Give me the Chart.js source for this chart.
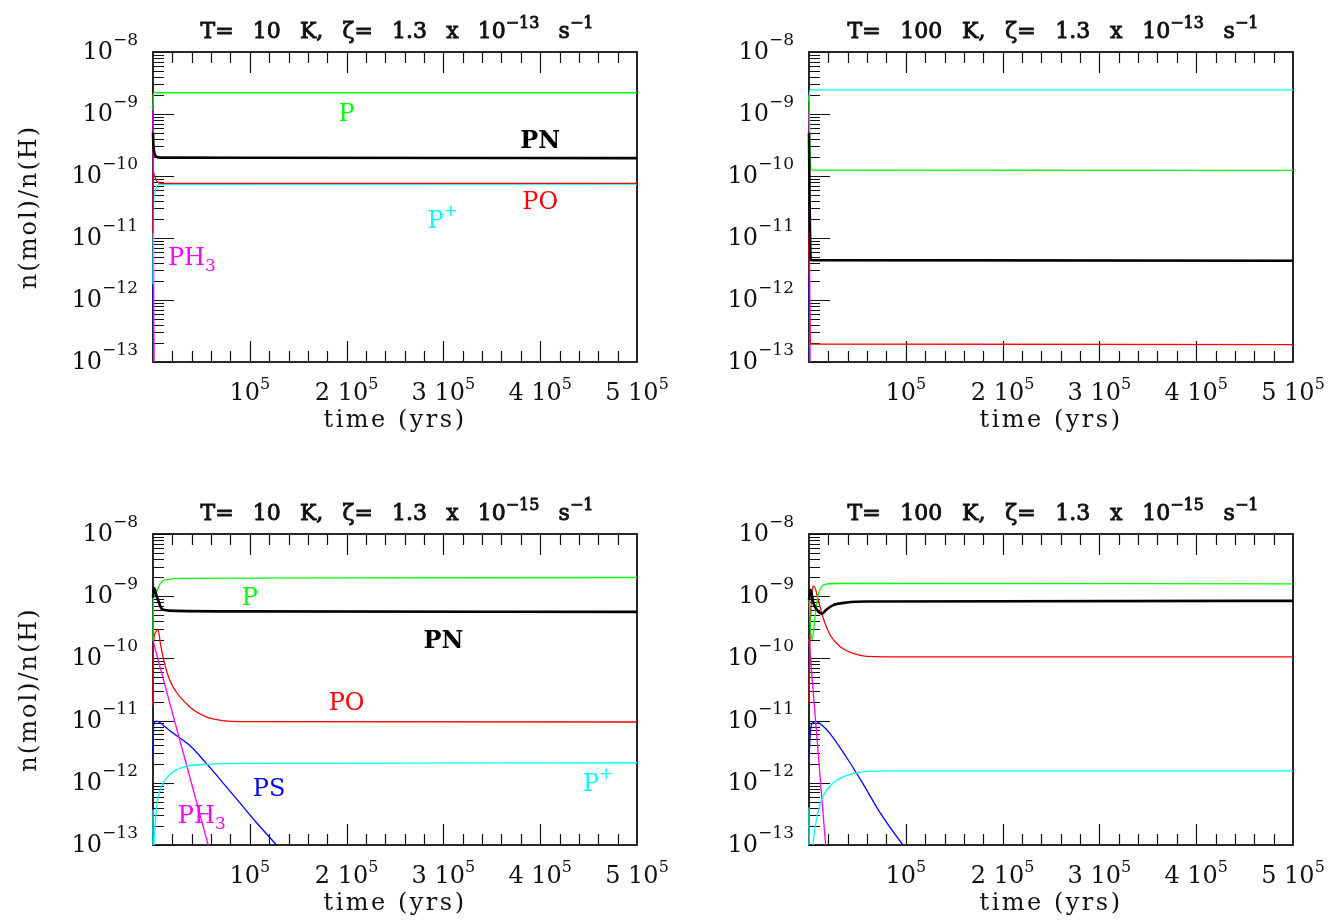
<!DOCTYPE html>
<html>
<head>
<meta charset="utf-8">
<script src="https://cdn.jsdelivr.net/npm/chart.js@4.4.1/dist/chart.umd.min.js"></script>
<style>
  html, body { margin: 0; padding: 0; background: #fff; }
  #wrap { position: relative; width: 1341px; height: 921px; overflow: hidden; }
  canvas { position: absolute; }
</style>
</head>
<body>
<div id="wrap">
  <canvas id="c1" width="680" height="460" style="left:0;top:0"></canvas>
  <canvas id="c2" width="670" height="460" style="left:671px;top:0"></canvas>
  <canvas id="c3" width="680" height="460" style="left:0;top:461px"></canvas>
  <canvas id="c4" width="670" height="460" style="left:671px;top:461px"></canvas>
</div>
<script>
// axis ranges and ticks
const X_MAX = 5e5;
const Y_MIN = 1e-13, Y_MAX = 1e-8;
const xMajorTicks = [1e5, 2e5, 3e5, 4e5, 5e5];
const xMinorStep = 2e4;
const yDecades = [-13, -12, -11, -10, -9, -8];

// panel parameters: temperature (K) and exponent of zeta
const panelTemps = [10, 100, 10, 100];
const panelZetaExp = [-13, -13, -15, -15];

// --- T = 10 K, zeta = 1.3e-13
const A_PN_t = [0, 300, 700, 1500, 2750, 6900, 100000, 500000];
const A_PN   = [5.0e-10, 3.4e-10, 2.8e-10, 2.3e-10, 2.1e-10, 1.98e-10, 1.97e-10, 1.94e-10];
const A_P_t  = [0, 400, 900, 500000];
const A_P    = [1.15e-9, 2.0e-9, 2.2e-9, 2.2e-9];
const A_PO_t = [0, 500, 1700, 4100, 8000, 500000];
const A_PO   = [1.2e-11, 1.15e-10, 1.0e-10, 8.2e-11, 7.6e-11, 7.6e-11];
const A_Pp_t = [0, 300, 700, 1700, 3400, 6900, 500000];
const A_Pp   = [1.8e-12, 1.0e-11, 4.0e-11, 5.3e-11, 6.7e-11, 7.3e-11, 7.4e-11];
const A_PH3_t = [0, 1200];
const A_PH3   = [1.15e-9, 1.0e-14];
const A_PS_t = [0, 1200];
const A_PS   = [2.7e-12, 1.0e-14];

// --- T = 100 K, zeta = 1.3e-13
const B_PN_t = [0, 600, 1200, 2000, 500000];
const B_PN   = [5.0e-10, 4.0e-11, 8.0e-12, 4.4e-12, 4.3e-12];
const B_P_t  = [0, 600, 1200, 2200, 500000];
const B_P    = [2.0e-9, 6.0e-10, 2.2e-10, 1.25e-10, 1.23e-10];
const B_PO_t = [0, 700, 1500, 500000];
const B_PO   = [1.2e-11, 8.0e-13, 1.95e-13, 1.9e-13];
const B_Pp_t = [0, 700, 1800, 500000];
const B_Pp   = [1.6e-9, 2.3e-9, 2.45e-9, 2.45e-9];
const B_PH3_t = [0, 1200];
const B_PH3   = [1.1e-9, 1.0e-14];
const B_PS_t = [0, 1200];
const B_PS   = [2.6e-12, 1.0e-14];

// --- T = 10 K, zeta = 1.3e-15
const C_PN_t = [0, 800, 1700, 3400, 5200, 8600, 12000, 24000, 100000, 500000];
const C_PN   = [9.5e-10, 1.35e-9, 1.3e-9, 1.05e-9, 8.7e-10, 6.4e-10, 6.0e-10, 5.8e-10, 5.7e-10, 5.6e-10];
const C_P_t  = [0, 400, 1700, 3440, 6880, 10300, 17200, 31000, 100000, 300000, 500000];
const C_P    = [1.9e-10, 9.3e-10, 1.0e-9, 1.13e-9, 1.53e-9, 1.77e-9, 1.88e-9, 1.93e-9, 1.95e-9, 1.98e-9, 2.0e-9];
const C_PO_t = [0, 300, 2500, 5200, 7600, 10300, 15500, 20600, 37800, 55000, 72000, 89000, 500000];
const C_PO   = [1.7e-11, 1.5e-10, 2.6e-10, 2.9e-10, 1.75e-10, 1.07e-10, 5.3e-11, 3.5e-11, 1.67e-11, 1.15e-11, 1.0e-11, 9.6e-12, 9.5e-12];
const C_Pp_t = [0, 150, 800, 1700, 3440, 5200, 8600, 13800, 20600, 37800, 55000, 100000, 500000];
const C_Pp   = [3.7e-13, 4.0e-14, 8.0e-14, 1.5e-13, 3.6e-13, 5.7e-13, 8.7e-13, 1.18e-12, 1.5e-12, 1.88e-12, 1.98e-12, 2.05e-12, 2.1e-12];
const C_PH3_t = [0, 57000];
const C_PH3   = [1.9e-10, 1.0e-13];
const C_PS_t = [0, 700, 3500, 7000, 12000, 20600, 37800, 55100, 72300, 89600, 106800, 127500, 140000];
const C_PS   = [2.6e-12, 8.5e-12, 9.8e-12, 9.3e-12, 8.1e-12, 6.3e-12, 4.0e-12, 2.05e-12, 1.0e-12, 4.8e-13, 2.3e-13, 1.0e-13, 5.8e-14];

// --- T = 100 K, zeta = 1.3e-15
const D_PN_t = [0, 1700, 4500, 9600, 13100, 18200, 25100, 38900, 59500, 500000];
const D_PN   = [8.7e-10, 1.27e-9, 7.8e-10, 5.7e-10, 5.2e-10, 6.1e-10, 7.2e-10, 7.9e-10, 8.2e-10, 8.4e-10];
const D_P_t  = [0, 1000, 2750, 4500, 6200, 9600, 13100, 18200, 30000, 500000];
const D_P    = [1.0e-9, 4.5e-10, 2.0e-10, 2.6e-10, 4.7e-10, 1.05e-9, 1.43e-9, 1.57e-9, 1.6e-9, 1.58e-9];
const D_PO_t = [0, 1000, 2750, 5200, 9600, 14800, 21700, 32000, 45700, 59500, 107000, 500000];
const D_PO   = [1.9e-11, 2.0e-10, 1.0e-9, 1.45e-9, 8.7e-10, 4.4e-10, 2.4e-10, 1.55e-10, 1.2e-10, 1.08e-10, 1.06e-10, 1.06e-10];
const D_Pp_t = [0, 200, 4100, 7600, 14400, 24800, 38500, 55700, 90000, 500000];
const D_Pp   = [4.0e-13, 1.0e-14, 1.0e-13, 2.5e-13, 6.0e-13, 9.8e-13, 1.3e-12, 1.5e-12, 1.56e-12, 1.56e-12];
const D_PH3_t = [0, 17200];
const D_PH3   = [2.0e-10, 1.0e-13];
const D_PS_t = [0, 2000, 5000, 7600, 12000, 21300, 38500, 55700, 72900, 97000, 105000];
const D_PS   = [2.6e-12, 8.0e-12, 9.5e-12, 9.6e-12, 8.8e-12, 6.3e-12, 2.6e-12, 9.7e-13, 3.4e-13, 1.0e-13, 7.0e-14];

// species labels (text, anchored in data units)
const A_labelText = ['P', 'PN', 'PO', 'P', 'PH'];
const A_labelSup  = ['', '', '', '+', ''];
const A_labelSub  = ['', '', '', '', '3'];
const A_labelTime = [2.0e5, 4.0e5, 4.0e5, 2.92e5, 3.46e4];
const A_labelVal  = [1.04e-9, 3.95e-10, 4.1e-11, 2.0e-11, 5.0e-12];
const C_labelText = ['P', 'PN', 'PO', 'PS', 'P', 'PH'];
const C_labelSup  = ['', '', '', '', '+', ''];
const C_labelSub  = ['', '', '', '', '', '3'];
const C_labelTime = [1.0e5, 3.0e5, 2.0e5, 1.2e5, 4.525e5, 4.48e4];
const C_labelVal  = [9.9e-10, 2.0e-10, 2.0e-11, 8.3e-13, 1.02e-12, 3.1e-13];

const GREEN = '#00ff00', RED = '#ff0000', CYAN = '#00ffff', MAGENTA = '#ff00ff', BLUE = '#0000ff', BLACK = '#000000';
const labelColor = { 'P': GREEN, 'PN': BLACK, 'PO': RED, 'PS': BLUE, 'PH': MAGENTA };
const FONT = '"DejaVu Serif", serif';
const F = (s, b) => (b ? 'bold ' : '') + s + 'px ' + FONT;

function series(t, v, color, w) {
    return {
        data: t.map((x, i) => ({ x: x, y: v[i] })),
        borderColor: color,
        borderWidth: w,
        pointRadius: 0,
        fill: false,
        clip: { left: 2, top: 0, right: 0, bottom: 0 },
        cubicInterpolationMode: 'monotone'
    };
}

function partsWidth(ctx, parts) {
    let w = 0;
    parts.forEach(p => { ctx.font = p.font; w += ctx.measureText(p.t).width + (p.gap || 0); });
    return w;
}

function drawParts(ctx, parts, x, y, stroke) {
    parts.forEach(p => {
        x += p.gap || 0;
        ctx.font = p.font;
        ctx.fillText(p.t, x, y + (p.dy || 0));
        if (stroke) ctx.strokeText(p.t, x, y + (p.dy || 0));
        x += ctx.measureText(p.t).width;
    });
}

const decor = {
    id: 'decor',
    beforeDatasetsDraw(chart) {
        const ctx = chart.ctx;
        const a = chart.chartArea;
        const xs = chart.scales.x, ys = chart.scales.y;
        ctx.save();
        // frame
        ctx.strokeStyle = '#111';
        ctx.lineWidth = 1.8;
        ctx.strokeRect(a.left, a.top, a.right - a.left, a.bottom - a.top);
        // ticks
        ctx.lineWidth = 1.2;
        ctx.beginPath();
        for (let i = 1; i * xMinorStep < X_MAX; i++) {
            const px = Math.round(xs.getPixelForValue(i * xMinorStep)) + 0.5;
            const len = (i % 5 === 0) ? 21 : 11;
            ctx.moveTo(px, a.bottom); ctx.lineTo(px, a.bottom - len);
            ctx.moveTo(px, a.top); ctx.lineTo(px, a.top + len);
        }
        yDecades.forEach(d => {
            for (let k = 1; k <= 9; k++) {
                const v = k * Math.pow(10, d);
                if (v > Y_MAX * 1.0001) break;
                const py = Math.round(ys.getPixelForValue(v)) + 0.5;
                const len = (k === 1) ? 21 : 11;
                ctx.moveTo(a.left, py); ctx.lineTo(a.left + len, py);
            }
        });
        ctx.stroke();
        ctx.restore();
    },
    afterDatasetsDraw(chart, args, opts) {
        const ctx = chart.ctx;
        const a = chart.chartArea;
        const xs = chart.scales.x, ys = chart.scales.y;
        ctx.save();
        ctx.textAlign = 'left';
        ctx.textBaseline = 'alphabetic';
        ctx.fillStyle = '#111';

        // y tick labels
        yDecades.forEach(d => {
            const py = ys.getPixelForValue(Math.pow(10, d));
            const parts = [{ t: '10', font: F(24) }, { t: '\u2212' + Math.abs(d), font: F(17), dy: -14 }];
            const w = partsWidth(ctx, parts);
            drawParts(ctx, parts, a.left - 15 - w, py + 7);
        });
        // x tick labels
        xMajorTicks.forEach(v => {
            const m = Math.round(v / 1e5);
            const parts = [{ t: (m === 1 ? '' : m + ' ') + '10', font: F(24) }, { t: '5', font: F(16), dy: -11 }];
            const w = partsWidth(ctx, parts);
            drawParts(ctx, parts, xs.getPixelForValue(v) - w / 2, a.bottom + 38);
        });

        // axis titles
        const cx = (a.left + a.right) / 2;
        ctx.font = F(24);
        ctx.letterSpacing = '2.5px';
        ctx.textAlign = 'center';
        ctx.fillText('time (yrs)', cx, a.bottom + 65);
        if (opts.yTitle) {
            ctx.save();
            ctx.letterSpacing = '2px';
            ctx.translate(a.left - 117, (a.top + a.bottom) / 2);
            ctx.rotate(-Math.PI / 2);
            ctx.fillText('n(mol)/n(H)', 0, 0);
            ctx.restore();
        }
        ctx.letterSpacing = '0px';
        ctx.textAlign = 'left';

        // panel title
        const tb = F(22), ts = F(16);
        const items = [
            { t: 'T=', font: tb }, { t: String(opts.temp), font: tb }, { t: 'K,', font: tb },
            { t: '\u03b6=', font: tb }, { t: '1.3', font: tb }, { t: 'x', font: tb }, { t: '10', font: tb },
            { t: '\u2212' + Math.abs(opts.zexp), font: ts, dy: -10, sup: true },
            { t: 's', font: tb }, { t: '\u22121', font: ts, dy: -10, sup: true }
        ];
        const target = opts.temp >= 100 ? 411 : 393;
        const natural = partsWidth(ctx, items);
        const nGaps = items.filter(p => !p.sup).length - 1;
        const gap = (target - natural) / nGaps;
        items.forEach((p, i) => { if (i > 0 && !p.sup) p.gap = gap; });
        ctx.strokeStyle = '#111';
        ctx.lineWidth = 0.9;
        drawParts(ctx, items, cx - target / 2 + 2, a.top - 14, true);

        // species labels
        const L = opts.labels;
        if (L) {
            L.text.forEach((txt, i) => {
                const px = xs.getPixelForValue(L.time[i]);
                const py = ys.getPixelForValue(L.val[i]);
                const main = { t: txt, font: F(24, txt === 'PN') };
                const parts = [main];
                if (L.sup[i]) parts.push({ t: L.sup[i], font: F(17), dy: -12 });
                if (L.sub[i]) parts.push({ t: L.sub[i], font: F(17), dy: 6 });
                ctx.font = main.font;
                const mw = ctx.measureText(txt).width;
                ctx.fillStyle = (txt === 'P' && L.sup[i]) ? CYAN : labelColor[txt];
                drawParts(ctx, parts, px - mw / 2, py + 8.5);
            });
        }
        ctx.restore();
    }
};

function makePanel(id, idx, pad, sets, labels, yTitle) {
    new Chart(document.getElementById(id), {
        type: 'line',
        data: { datasets: sets },
        options: {
            responsive: false,
            animation: false,
            events: [],
            layout: { padding: pad },
            plugins: {
                legend: { display: false },
                tooltip: { enabled: false },
                decor: { temp: panelTemps[idx], zexp: panelZetaExp[idx], labels: labels, yTitle: yTitle }
            },
            scales: {
                x: { type: 'linear', min: 0, max: X_MAX, display: false },
                y: { type: 'logarithmic', min: Y_MIN, max: Y_MAX, display: false }
            }
        },
        plugins: [decor]
    });
}

makePanel('c1', 0, { left: 153, top: 52, right: 43, bottom: 98 }, [
    series(A_PN_t, A_PN, BLACK, 2.6),
    series(A_P_t, A_P, GREEN, 1.3),
    series(A_PO_t, A_PO, RED, 1.3),
    series(A_Pp_t, A_Pp, CYAN, 1.3),
    series(A_PH3_t, A_PH3, MAGENTA, 1.3),
    series(A_PS_t, A_PS, BLUE, 1.3)
], { text: A_labelText, sup: A_labelSup, sub: A_labelSub, time: A_labelTime, val: A_labelVal }, true);

makePanel('c2', 1, { left: 138, top: 52, right: 48, bottom: 98 }, [
    series(B_PN_t, B_PN, BLACK, 2.6),
    series(B_P_t, B_P, GREEN, 1.3),
    series(B_PO_t, B_PO, RED, 1.3),
    series(B_Pp_t, B_Pp, CYAN, 1.3),
    series(B_PH3_t, B_PH3, MAGENTA, 1.3),
    series(B_PS_t, B_PS, BLUE, 1.3)
], null, false);

makePanel('c3', 2, { left: 153, top: 73, right: 43, bottom: 76 }, [
    series(C_PN_t, C_PN, BLACK, 2.6),
    series(C_P_t, C_P, GREEN, 1.3),
    series(C_PO_t, C_PO, RED, 1.3),
    series(C_Pp_t, C_Pp, CYAN, 1.3),
    series(C_PH3_t, C_PH3, MAGENTA, 1.3),
    series(C_PS_t, C_PS, BLUE, 1.3)
], { text: C_labelText, sup: C_labelSup, sub: C_labelSub, time: C_labelTime, val: C_labelVal }, true);

makePanel('c4', 3, { left: 138, top: 73, right: 48, bottom: 76 }, [
    series(D_PN_t, D_PN, BLACK, 2.6),
    series(D_P_t, D_P, GREEN, 1.3),
    series(D_PO_t, D_PO, RED, 1.3),
    series(D_Pp_t, D_Pp, CYAN, 1.3),
    series(D_PH3_t, D_PH3, MAGENTA, 1.3),
    series(D_PS_t, D_PS, BLUE, 1.3)
], null, false);
</script>
</body>
</html>
